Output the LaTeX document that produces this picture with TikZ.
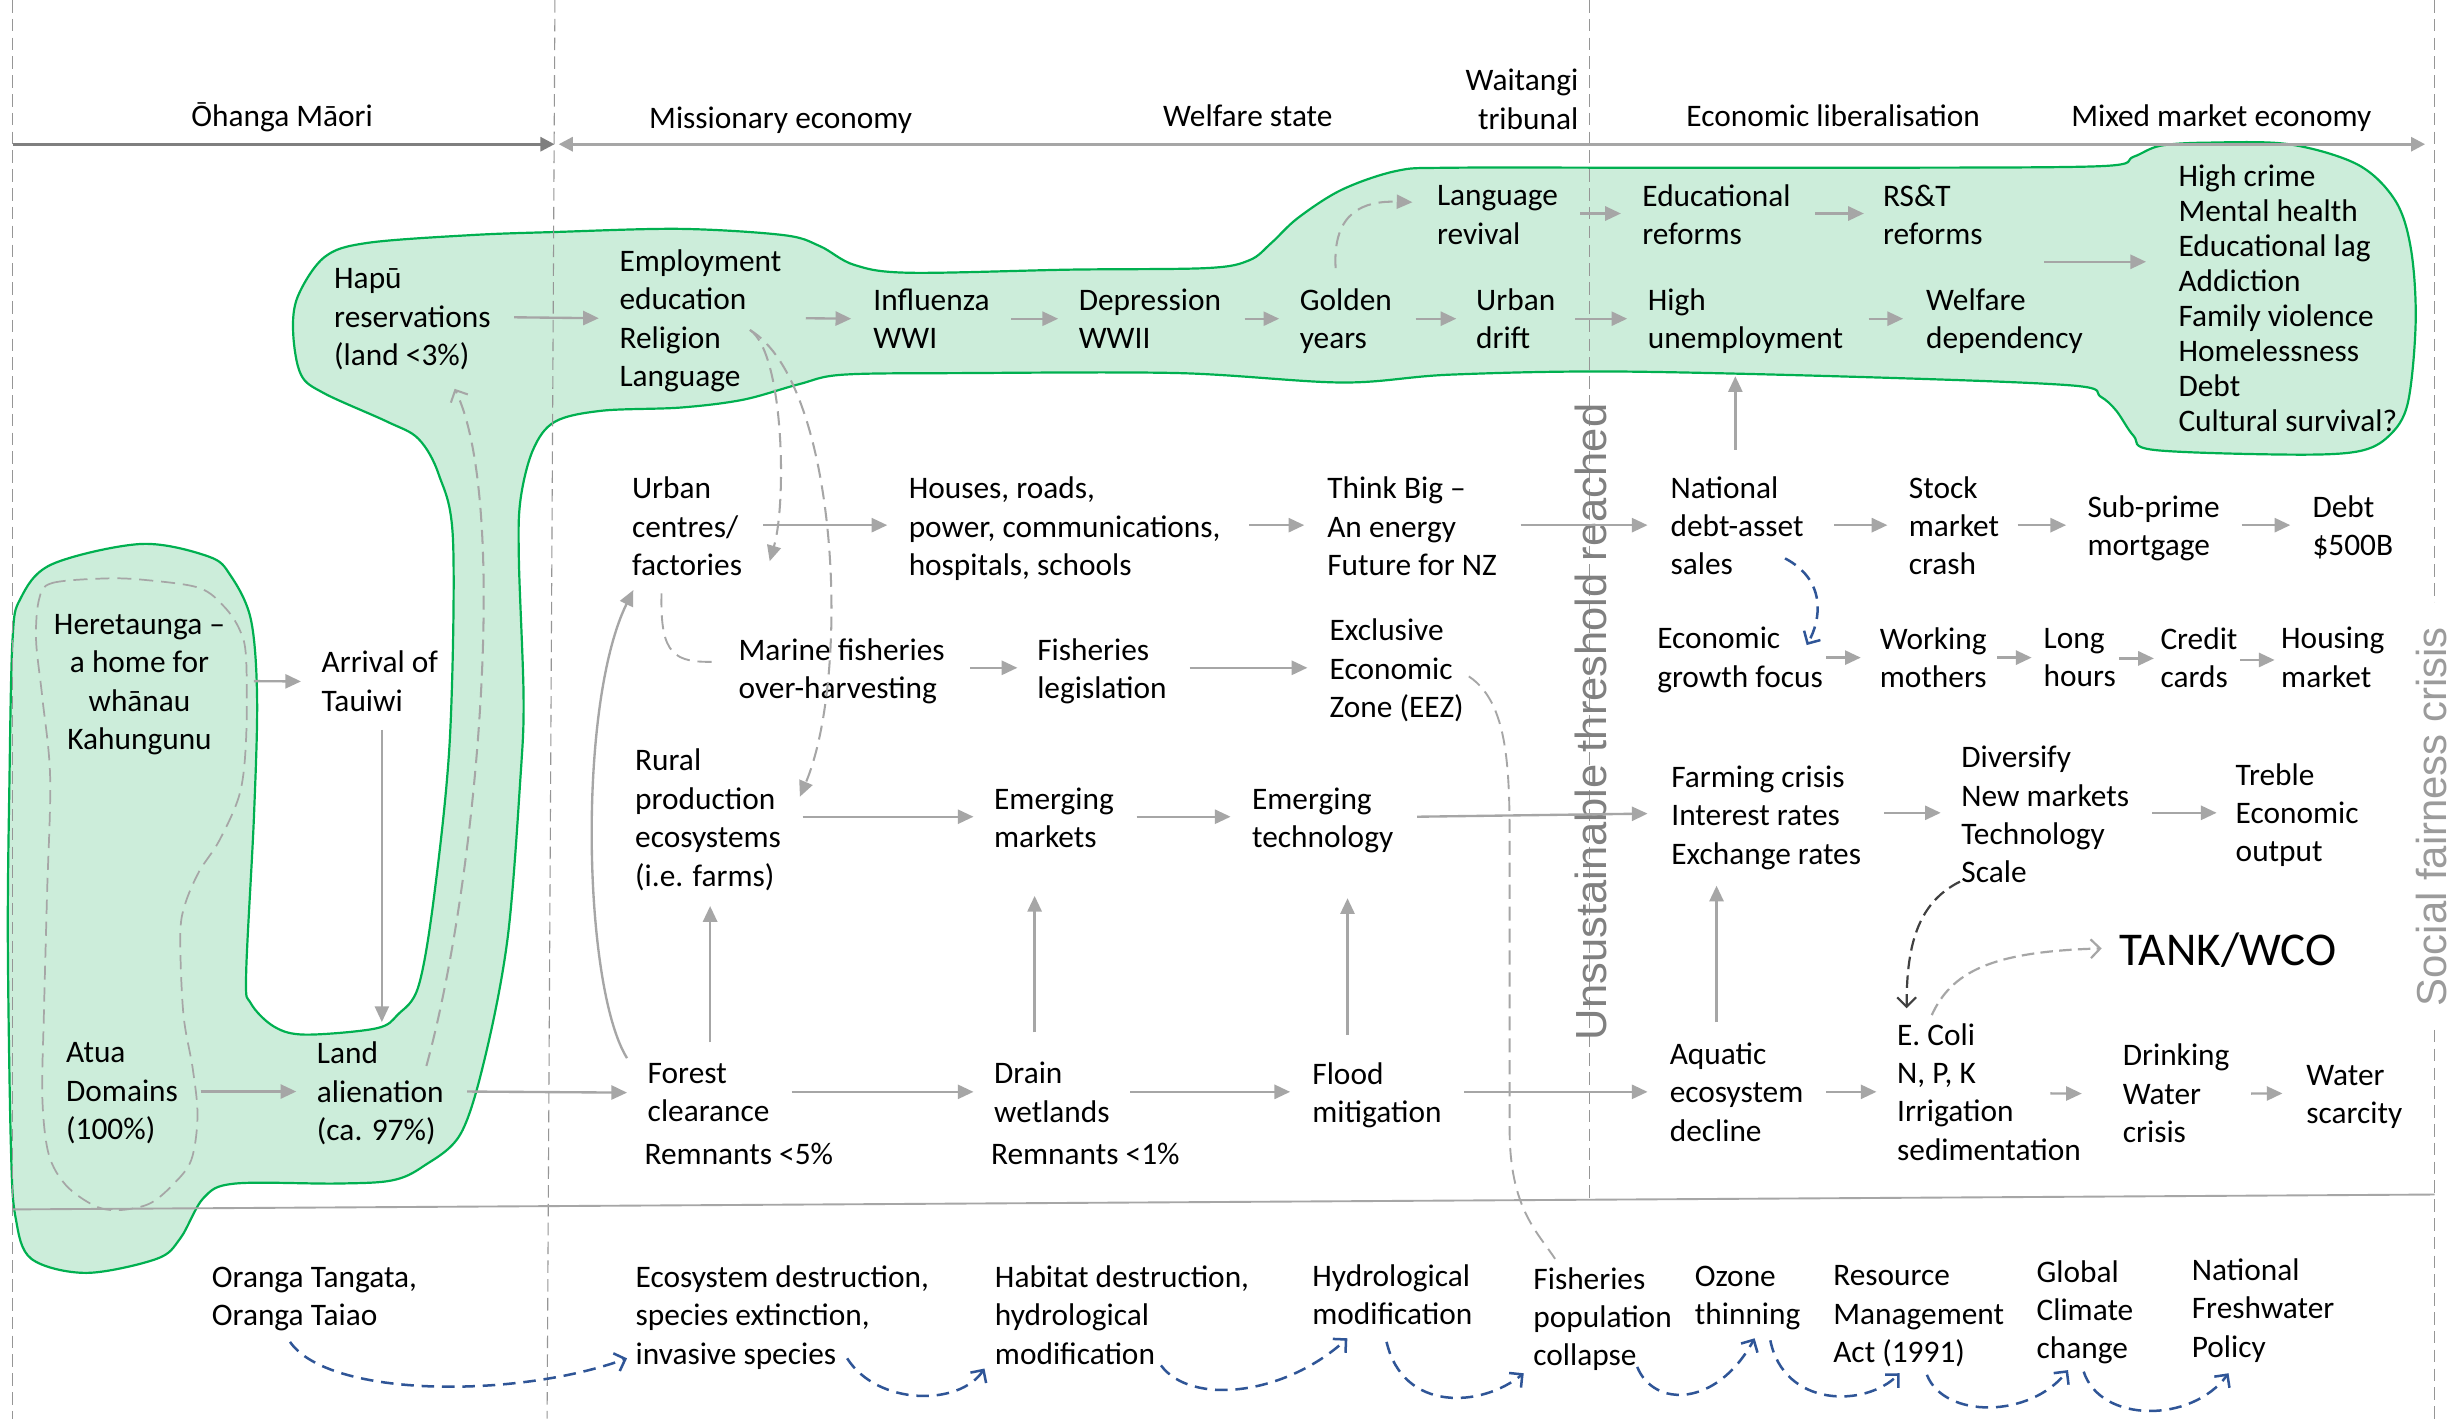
\documentclass[tikz,border=0pt]{standalone}
\usepackage{graphicx}
\usepackage{fontspec}
\setmainfont{Carlito}
\newfontfamily\vfont{Liberation Sans}
\usetikzlibrary{arrows.meta}
\definecolor{blobfill}{RGB}{204,237,218}
\definecolor{blobline}{RGB}{0,176,80}
\definecolor{arrgray}{RGB}{166,166,166}
\definecolor{hdrdark}{RGB}{127,127,127}
\definecolor{sepgray}{RGB}{150,150,150}
\definecolor{blued}{RGB}{47,85,151}
\definecolor{darkd}{RGB}{64,64,64}
\definecolor{unsgray}{RGB}{128,128,128}
\definecolor{socgray}{RGB}{155,155,155}
\begin{document}
\begin{tikzpicture}[x=1pt,y=-1pt,
  txt/.style={inner sep=0pt, anchor=west, align=left, yshift=-3.5pt, font=\fontsize{20}{24.5}\selectfont,
    execute at begin node=\strut, execute at end node=\strut},
  hdr/.style={inner sep=0pt, anchor=center, font=\fontsize{20}{24.5}\selectfont,
    execute at begin node=\strut, execute at end node=\strut},
  arr/.style={draw=arrgray, line width=1.5pt, -{Triangle[length=10pt,width=9pt]}},
  darr/.style={draw=arrgray, line width=1.3pt, dash pattern=on 9pt off 5pt, -{Triangle[length=10pt,width=9pt]}},
  darrO/.style={draw=arrgray, line width=1.3pt, dash pattern=on 9pt off 5pt, -{Straight Barb[length=6pt,width=12pt]}},
  dline/.style={draw=arrgray, line width=1.2pt, dash pattern=on 9pt off 5pt},
  barr/.style={draw=blued, line width=1.6pt, dash pattern=on 8pt off 5pt, -{Straight Barb[length=6pt,width=12pt]}},
  kdarr/.style={draw=darkd, line width=1.4pt, dash pattern=on 8pt off 4pt, -{Straight Barb[length=6pt,width=12pt]}},
  gdarrO/.style={draw=arrgray, line width=1.4pt, dash pattern=on 8pt off 4pt, -{Straight Barb[length=6pt,width=12pt]}},
  sep/.style={draw=sepgray, line width=0.7pt, dash pattern=on 8pt off 4pt}
]
\useasboundingbox (0,0) rectangle (1568,905);
\fill[white] (0,0) rectangle (1568,905);

% green blob
\draw[draw=blobline, fill=blobfill, line width=1.4pt] plot[smooth cycle, tension=0.55] coordinates {
(207,164) (234,155) (300,150) (354,148) (434,146) (500,150) (523,157) (545,169) (580,174)
(683,172) (770,171) (797,166) (811,155) (828,139) (856,121) (891,109) (925,107) (1053,107)
(1200,107) (1340,106) (1361,100) (1378,93) (1408,91) (1460,92) (1504,105) (1528,128)
(1538,159) (1541,205) (1536,257) (1524,278) (1504,288) (1460,290) (1374,287) (1361,278)
(1350,262) (1340,253) (1323,246) (1204,241) (1033,237) (925,239) (856,244) (752,238)
(614,238) (538,239) (510,245) (474,255) (434,260) (384,262) (354,269) (340,287) (332,319)
(331,357) (334,445) (332,496) (324,597) (310,672) (294,723) (270,744) (250,753) (215,755)
(150,755) (130,764) (115,790) (100,803) (55,812) (20,803) (10,777) (7,733) (5,600) (6,500)
(8,408) (13,382) (33,360) (90,347) (133,355) (147,367) (160,395) (164,445) (162,521)
(157,622) (160,640) (175,655) (195,660) (240,656) (254,647) (267,629) (277,571) (287,471)
(289,345) (280,303) (267,280) (247,269) (207,251) (192,239) (187,212) (190,189)};

% inner dashed loop
\draw[dline, line width=1.1pt] plot[smooth cycle, tension=0.55] coordinates {
(25,382) (33,372) (67,369) (93,370) (127,375) (143,387) (153,402) (157,420) (157,471)
(153,506) (140,536) (127,556) (118,577) (115,597) (117,647) (123,682) (126,712) (122,740)
(110,756) (95,768) (75,772) (60,769) (42,756) (31,736) (27,700) (28,647) (30,571) (32,496)
(27,445) (23,408)};

% separators
\draw[sep] (8,0) -- (8,905);
\draw[sep] (354,0) -- (349,905);
\draw[sep] (1014,0) -- (1014,766);
\draw[sep] (1553,0) -- (1553,384);
\draw[sep] (1553,657) -- (1553,905);
\draw[draw=arrgray, line width=1.2pt] (8,771.5) -- (1553,762);

% header
\coordinate (h0) at (8,92);
\coordinate (h1) at (353.7,92);
\coordinate (h1b) at (356.4,92);
\coordinate (h2) at (1547,92);
\draw[line width=1.8pt, draw=hdrdark, -{Triangle[length=9pt,width=9pt]}] (h0) -- (h1);
\draw[line width=1.8pt, draw=arrgray, {Triangle[length=9pt,width=9pt]}-{Triangle[length=9pt,width=9pt]}] (h1b) -- (h2);
\node[hdr] (ohanga) at (180,75.5) {Ōhanga Māori};
\node[hdr] (mission) at (498,77) {Missionary economy};
\node[hdr] (welfst) at (796,75.5) {Welfare state};
\node[hdr, anchor=east, align=right] (waitangi) at (1007,67) {Waitangi\\tribunal};
\node[hdr] (econlib) at (1169.4,76) {Economic liberalisation};
\node[hdr] (mixed) at (1417,76) {Mixed market economy};

% vertical texts
\node[rotate=90, inner sep=0pt, text=unsgray] (unsust) at (1015,460.5) {\resizebox{406pt}{!}{\vfont Unsustainable threshold reached}};
\node[rotate=90, inner sep=0pt, text=socgray] (social) at (1551,521) {\resizebox{242pt}{!}{\vfont Social fairness crisis}};

% nodes
\node[txt] (hapu) at (213,202.4) {Hapū\\reservations\\(land <3\%)};
\node[txt, anchor=center, align=center] (here) at (89,435.3) {Heretaunga –\\a home for\\whānau\\Kahungunu};
\node[txt] (arrival) at (205,434.7) {Arrival of\\Tauiwi};
\node[txt] (atua) at (42,696.3) {Atua\\Domains\\(100\%)};
\node[txt] (land) at (202,696.3) {Land\\alienation\\(ca. 97\%)};
\node[txt] (emp) at (395,203) {Employment\\education\\Religion\\Language};
\node[txt] (infl) at (557,203.3) {Influenza\\WWI};
\node[txt] (depr) at (688,203.3) {Depression\\WWII};
\node[txt] (gold) at (829,203.3) {Golden\\years};
\node[txt] (udrift) at (941.5,203.3) {Urban\\drift};
\node[txt] (langrev) at (916.5,137.2) {Language\\revival};
\node[txt] (edu) at (1047.5,137.2) {Educational\\reforms};
\node[txt] (rst) at (1201,137.2) {RS\&T\\reforms};
\node[txt] (hiun) at (1051,203.3) {High\\unemployment};
\node[txt] (welf) at (1228.5,203.3) {Welfare\\dependency};
\node[txt, font=\fontsize{20}{22.4}\selectfont] (list) at (1389.5,190) {High crime\\Mental health\\Educational lag\\Addiction\\Family violence\\Homelessness\\Debt\\Cultural survival?};
\node[txt] (urbc) at (403,336) {Urban\\centres/\\factories};
\node[txt] (houses) at (579.5,336) {Houses, roads,\\power, communications,\\hospitals, schools};
\node[txt] (think) at (846.5,336) {Think Big –\\An energy\\Future for NZ};
\node[txt] (natl) at (1065.5,335.5) {National\\debt-asset\\sales};
\node[txt] (stock) at (1217.5,335.5) {Stock\\market\\crash};
\node[txt] (subp) at (1331.5,335.5) {Sub-prime\\mortgage};
\node[txt] (debt) at (1475,335.5) {Debt\\\$500B};
\node[txt] (marine) at (471,426.5) {Marine fisheries\\over-harvesting};
\node[txt] (fishleg) at (661.5,426.5) {Fisheries\\legislation};
\node[txt] (eez) at (848,426.5) {Exclusive\\Economic\\Zone (EEZ)};
\node[txt] (egf) at (1057,419.5) {Economic\\growth focus};
\node[txt] (work) at (1199,419.5) {Working\\mothers};
\node[txt] (long) at (1303.5,419.5) {Long\\hours};
\node[txt] (credit) at (1378,419.5) {Credit\\cards};
\node[txt] (housing) at (1455,419.5) {Housing\\market};
\node[txt] (rural) at (405,521.7) {Rural\\production\\ecosystems\\(i.e. farms)};
\node[txt] (emm) at (634,521.7) {Emerging\\markets};
\node[txt] (emt) at (798.5,521.7) {Emerging\\technology};
\node[txt] (farm) at (1066,520.2) {Farming crisis\\Interest rates\\Exchange rates};
\node[txt] (divers) at (1251,519.8) {Diversify\\New markets\\Technology\\Scale};
\node[txt] (treble) at (1426,518.5) {Treble\\Economic\\output};
\node[txt] (forest) at (413,697) {Forest\\clearance};
\node[txt] (rem5) at (411,734.5) {Remnants <5\%};
\node[txt] (drain) at (634,697) {Drain\\wetlands};
\node[txt] (rem1) at (632,734.5) {Remnants <1\%};
\node[txt] (flood) at (837,697) {Flood\\mitigation};
\node[txt] (aquatic) at (1065,696.7) {Aquatic\\ecosystem\\decline};
\node[txt] (ecoli) at (1210,696.7) {E. Coli\\N, P, K\\Irrigation\\sedimentation};
\node[txt] (drink) at (1354,697.6) {Drinking\\Water\\crisis};
\node[txt] (water) at (1471,698.2) {Water\\scarcity};
\node[txt, font=\fontsize{30}{36}\selectfont] (tank) at (1352,605.3) {TANK/WCO};
\node[txt] (oranga) at (135,827) {Oranga Tangata,\\Oranga Taiao};
\node[txt] (ecosys) at (405.3,839) {Ecosystem destruction,\\species extinction,\\invasive species};
\node[txt] (habitat) at (634.5,839) {Habitat destruction,\\hydrological\\modification};
\node[txt] (hydro) at (837,826) {Hydrological\\modification};
\node[txt] (fishpop) at (978,840) {Fisheries\\population\\collapse};
\node[txt] (ozone) at (1081,826.6) {Ozone\\thinning};
\node[txt] (rma) at (1169.3,838.5) {Resource\\Management\\Act (1991)};
\node[txt] (global) at (1299,835.6) {Global\\Climate\\change};
\node[txt] (nfp) at (1398,834.6) {National\\Freshwater\\Policy};

% straight arrows
\draw[arr] ([shift={(115,-3.5)}]hapu.west) -- ([shift={(-13,-3.5)}]emp.west);
\draw[arr] ([shift={(119,-3.5)}]emp.west) -- ([shift={(-14,-3.5)}]infl.west);
\draw[arr] ([shift={(88,-3.5)}]infl.west) -- ([shift={(-13,-3.5)}]depr.west);
\draw[arr] ([shift={(106,-3.5)}]depr.west) -- ([shift={(-13,-3.5)}]gold.west);
\draw[arr] ([shift={(74,-3.5)}]gold.west) -- ([shift={(-12.5,-3.5)}]udrift.west);
\draw[arr] ([shift={(63.5,-3.5)}]udrift.west) -- ([shift={(-13,-3.5)}]hiun.west);
\draw[arr] ([shift={(91.5,-4.5)}]langrev.west) -- ([shift={(-13.5,-4.5)}]edu.west);
\draw[arr] ([shift={(110.5,-4.5)}]edu.west) -- ([shift={(-12,-4.5)}]rst.west);
\draw[arr] ([shift={(141,-3.5)}]hiun.west) -- ([shift={(-14.5,-3.5)}]welf.west);
\coordinate (lsrc) at (1304,167);
\draw[arr] (lsrc) -- ([shift={(-20.5,-26.5)}]list.west);
\draw[arr] ([shift={(73,-4.3)}]here.center) -- ([shift={(-13,-3.5)}]arrival.west);
\draw[arr] ([shift={(86,-3.5)}]atua.west) -- ([shift={(-13,-3.5)}]land.west);
\draw[arr] ([shift={(96,-3.5)}]land.west) -- ([shift={(-13,-3.5)}]forest.west);
\draw[arr] ([shift={(84,-4.5)}]urbc.west) -- ([shift={(-13.5,-4.5)}]houses.west);
\draw[arr] ([shift={(217.5,-4.5)}]houses.west) -- ([shift={(-14.5,-4.5)}]think.west);
\draw[arr] ([shift={(123.5,-4.5)}]think.west) -- ([shift={(-14.5,-4)}]natl.west);
\draw[arr] ([shift={(104.5,-4)}]natl.west) -- ([shift={(-13.5,-4)}]stock.west);
\draw[arr] ([shift={(69.5,-4)}]stock.west) -- ([shift={(-13.5,-4)}]subp.west);
\draw[arr] ([shift={(98.5,-4)}]subp.west) -- ([shift={(-14,-4)}]debt.west);
\draw[arr] ([shift={(148,-4)}]marine.west) -- ([shift={(-12.5,-4)}]fishleg.west);
\draw[arr] ([shift={(97.5,-4)}]fishleg.west) -- ([shift={(-14,-4)}]eez.west);
\draw[arr] ([shift={(108,-3.5)}]egf.west) -- ([shift={(-12,-3.5)}]work.west);
\draw[arr] ([shift={(75,-3.5)}]work.west) -- ([shift={(-7.5,-3.5)}]long.west);
\draw[arr] ([shift={(48.5,-3)}]long.west) -- ([shift={(-4,-3)}]credit.west);
\draw[arr] ([shift={(51,-2)}]credit.west) -- ([shift={(-4,-2)}]housing.west);
\draw[arr] ([shift={(107,-4.2)}]rural.west) -- ([shift={(-13,-4.2)}]emm.west);
\draw[arr] ([shift={(91,-4.2)}]emm.west) -- ([shift={(-13.5,-4.2)}]emt.west);
\draw[arr] ([shift={(105.5,-4.2)}]emt.west) -- ([shift={(-15,-4.7)}]farm.west);
\draw[arr] ([shift={(136,-5.2)}]farm.west) -- ([shift={(-13,-4.8)}]divers.west);
\draw[arr] ([shift={(122,-4.8)}]divers.west) -- ([shift={(-12,-3.5)}]treble.west);
\draw[arr] ([shift={(92,-4)}]forest.west) -- ([shift={(-13,-4)}]drain.west);
\draw[arr] ([shift={(87,-4)}]drain.west) -- ([shift={(-14,-4)}]flood.west);
\draw[arr] ([shift={(97,-4)}]flood.west) -- ([shift={(-14,-3.7)}]aquatic.west);
\draw[arr] ([shift={(100,-3.7)}]aquatic.west) -- ([shift={(-13,-3.7)}]ecoli.west);
\draw[arr] ([shift={(98,-2.7)}]ecoli.west) -- ([shift={(-26,-3.5)}]drink.west);
\draw[arr] ([shift={(82,-3.5)}]drink.west) -- ([shift={(-15,-4.2)}]water.west);
% vertical arrows
\draw[arr, line width=1.2pt] ([shift={(38.6,27.4)}]arrival.west) -- ([shift={(41.6,-47.8)}]land.west);
\draw[arr] ([shift={(40,-35.5)}]forest.west) -- ([shift={(48,52.8)}]rural.west);
\draw[arr] ([shift={(26,-42)}]drain.west) -- ([shift={(26,46.3)}]emm.west);
\draw[arr] ([shift={(22.6,-40.5)}]flood.west) -- ([shift={(61.1,47.8)}]emt.west);
\draw[arr] ([shift={(30,-48.2)}]aquatic.west) -- ([shift={(29,41.3)}]farm.west);
\draw[arr] ([shift={(41.5,-52)}]natl.west) -- ([shift={(56,33.2)}]hiun.west);
% curved connectors
\draw[arr] ([shift={(-13,-25.5)}]forest.west) .. controls (372,630) and (368,450) .. ([shift={(1,36.9)}]urbc.west);
\draw[darrO] ([shift={(70,-19.8)}]land.west) .. controls (305,560) and (325,320) .. ([shift={(77,42.1)}]hapu.west);
\draw[darr] ([shift={(23,-35.8)}]gold.west) .. controls (850,135) and (870,128) .. ([shift={(-15.5,-11.7)}]langrev.west);
\draw[darr] ([shift={(83.4,4)}]emp.west) .. controls (500,225) and (502,320) .. ([shift={(88,18.5)}]urbc.west);
\draw[darr] ([shift={(83.4,4)}]emp.west) .. controls (535,245) and (543,430) .. ([shift={(105.3,-17)}]rural.west);
\draw[dline] ([shift={(19,39)}]urbc.west) .. controls (421,418) and (430,423) .. ([shift={(-14,-7.9)}]marine.west);
\draw[dline] ([shift={(89,1.5)}]eez.west) .. controls (965,450) and (963,500) .. (963,560) -- (963,720) .. controls (963,770) and (980,785) .. ([shift={(14,-40.5)}]fishpop.west);
\draw[barr] ([shift={(73.2,17.2)}]natl.west) .. controls (1165,370) and (1162,395) .. ([shift={(95.5,-11.5)}]egf.west);
\draw[kdarr] ([shift={(-0.7,39.1)}]divers.west) .. controls (1225,575) and (1216,600) .. ([shift={(6.3,-57)}]ecoli.west);
\draw[gdarrO] ([shift={(22.3,-52.7)}]ecoli.west) .. controls (1245,620) and (1270,607) .. ([shift={(-11.3,-3.8)}]tank.west);
% bottom blue arrows
\draw[barr] ([shift={(50,25.5)}]oranga.west) .. controls (210,892) and (330,892) .. ([shift={(-5.3,24)}]ecosys.west);
\draw[barr] ([shift={(135.1,24)}]ecosys.west) .. controls (560,897) and (612,897) .. ([shift={(-6.5,30.5)}]habitat.west);
\draw[barr] ([shift={(106.1,28.5)}]habitat.west) .. controls (760,897) and (820,890) .. ([shift={(22.5,24.2)}]hydro.west);
\draw[barr] ([shift={(47.5,26.5)}]hydro.west) .. controls (895,901) and (945,898) .. ([shift={(-6,32.5)}]fishpop.west);
\draw[barr] ([shift={(66.4,28.5)}]fishpop.west) .. controls (1055,898) and (1095,898) .. ([shift={(38.3,23.6)}]ozone.west);
\draw[barr] ([shift={(48.3,24.9)}]ozone.west) .. controls (1138,898) and (1190,898) .. ([shift={(42.5,34)}]rma.west);
\draw[barr] ([shift={(59.9,35)}]rma.west) .. controls (1240,905) and (1295,905) .. ([shift={(20.2,34.9)}]global.west);
\draw[barr] ([shift={(30.2,35.9)}]global.west) .. controls (1340,908) and (1398,908) .. ([shift={(23.6,37.9)}]nfp.west);
\end{tikzpicture}
\end{document}
